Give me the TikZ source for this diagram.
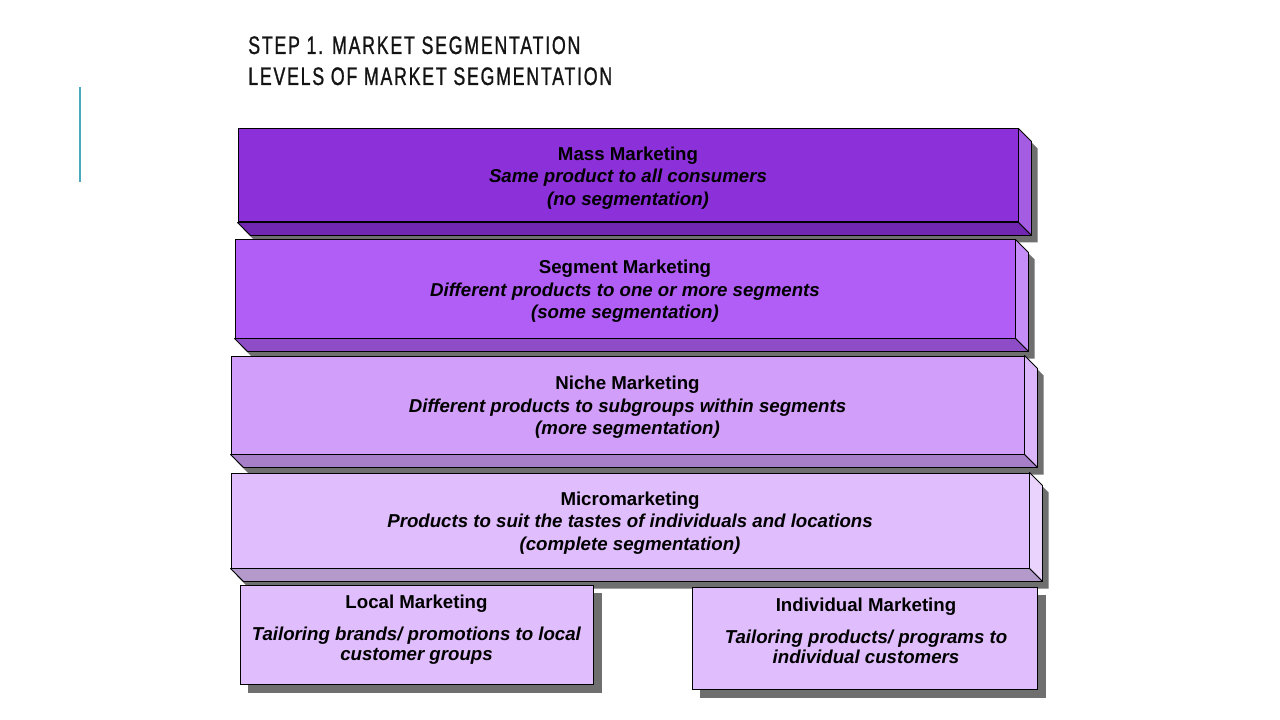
\documentclass[tikz,border=0pt]{standalone}
\usepackage{fontspec}
\setmainfont{Liberation Sans}
\newfontfamily\titlefont[FakeStretch=0.7,LetterSpace=7,FakeBold=1]{Liberation Sans}
\usetikzlibrary{backgrounds}
\definecolor{shadowgray}{HTML}{6F6F6F}
\definecolor{accentteal}{HTML}{4BA9BD}
\definecolor{titleink}{HTML}{141414}
\definecolor{massF}{HTML}{8C30DA}\definecolor{massB}{HTML}{7127B2}\definecolor{massR}{HTML}{A45CE2}
\definecolor{segF}{HTML}{B05EF6}\definecolor{segB}{HTML}{8E4CC6}\definecolor{segR}{HTML}{C58DF8}
\definecolor{nicheF}{HTML}{D19EF9}\definecolor{nicheB}{HTML}{A77EC8}\definecolor{nicheR}{HTML}{DCB6FA}
\definecolor{microF}{HTML}{E0BDFC}\definecolor{microB}{HTML}{B39ACA}\definecolor{microR}{HTML}{EAD3FD}
\tikzset{
  levelbox/.style={draw=black, line width=0.75pt, inner sep=0pt, align=center,
    font=\fontsize{14}{16.9}\selectfont\bfseries},
  flatbox/.style={draw=black, line width=0.75pt, inner sep=0pt, fill=microF},
  flattext/.style={align=center, inner sep=0pt, font=\fontsize{14}{15}\selectfont\bfseries},
  bevel/.style={draw=black, line width=0.6pt, line join=round},
  titletext/.style={anchor=base west, inner sep=0pt, text=titleink,
    font=\titlefont\fontsize{19}{22}\selectfont},
}
\newcommand\toppad{\rule{0pt}{14pt}}
% #1 node name, #2 bottom colour, #3 right colour
\newcommand\bevelfaces[3]{%
  \begin{scope}[on background layer]
    \fill[shadowgray] ([shift={(6,7)}]#1.north east) -- ([shift={(19,20)}]#1.north east)
      -- ([shift={(19,20)}]#1.south east) -- ([shift={(19,20)}]#1.south west)
      -- ([shift={(6,7)}]#1.south west) -- cycle;
    \filldraw[bevel, fill=#3] (#1.north east) -- ([shift={(13,13)}]#1.north east)
      -- ([shift={(13,13)}]#1.south east) -- (#1.south east) -- cycle;
    \filldraw[bevel, fill=#2] (#1.south west) -- (#1.south east)
      -- ([shift={(13,13)}]#1.south east) -- ([shift={(13,13)}]#1.south west) -- cycle;
  \end{scope}}
\newcommand\flatshadow[1]{%
  \begin{scope}[on background layer]
    \fill[shadowgray] ([shift={(8,8)}]#1.north west) rectangle ([shift={(8,8)}]#1.south east);
  \end{scope}}
\begin{document}
\begin{tikzpicture}[x=0.75pt,y=-0.75pt]
\useasboundingbox (0,0) rectangle (1280,720);

% accent line
\coordinate (acc1) at (80,87);
\coordinate (acc2) at (80,182);
\draw[accentteal, line width=1.5pt] (acc1) -- (acc2);

% title
\node[titletext] (title1) at (248,54) {STEP 1. MARKET SEGMENTATION};
\node[titletext] (title2) at (248,85) {LEVELS OF MARKET SEGMENTATION};

% level blocks
\node[levelbox, fill=massF, minimum width=780*0.75pt, minimum height=93*0.75pt]
  (mass) at (628,175.5) {\toppad Mass Marketing\\ \textit{Same product to all consumers}\\ \textit{(no segmentation)}};
\bevelfaces{mass}{massB}{massR}

\node[levelbox, fill=segF, minimum width=780*0.75pt, minimum height=98*0.75pt]
  (segment) at (625,289) {\toppad Segment Marketing\\ \textit{Different products to one or more segments}\\ \textit{(some segmentation)}};
\bevelfaces{segment}{segB}{segR}

\node[levelbox, fill=nicheF, minimum width=793*0.75pt, minimum height=98*0.75pt]
  (niche) at (627.5,405) {\toppad Niche Marketing\\ \textit{Different products to subgroups within segments}\\ \textit{(more segmentation)}};
\bevelfaces{niche}{nicheB}{nicheR}

\node[levelbox, fill=microF, minimum width=798*0.75pt, minimum height=95*0.75pt]
  (micro) at (630,520.5) {\toppad Micromarketing\\ \textit{Products to suit the tastes of individuals and locations}\\ \textit{(complete segmentation)}};
\bevelfaces{micro}{microB}{microR}

% lower boxes
\node[flatbox, minimum width=353*0.75pt, minimum height=99*0.75pt] (local) at (416.5,634.5) {};
\flatshadow{local}
\node[flattext] (localtext) at (416.5,630) {Local Marketing\\[9pt] \textit{Tailoring brands/ promotions to local}\\ \textit{customer groups}};

\node[flatbox, minimum width=345*0.75pt, minimum height=102*0.75pt] (individual) at (864.5,638) {};
\flatshadow{individual}
\node[flattext] (individualtext) at (866,631) {Individual Marketing\\[9pt] \textit{Tailoring products/ programs to}\\ \textit{individual customers}};
\end{tikzpicture}
\end{document}
